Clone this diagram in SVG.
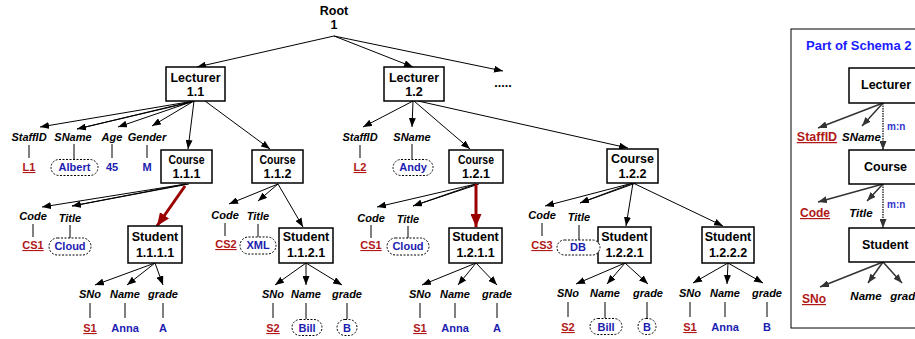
<svg xmlns="http://www.w3.org/2000/svg" width="915" height="339" viewBox="0 0 915 339">
<defs>
<marker id="ah" viewBox="0 0 9 7" refX="9" refY="3.5" markerWidth="9" markerHeight="7" markerUnits="userSpaceOnUse" orient="auto" preserveAspectRatio="none"><path d="M0,0 L9,3.5 L0,7 z" fill="#000"/></marker>
<marker id="ahg" viewBox="0 0 9 7" refX="9" refY="3.5" markerWidth="9" markerHeight="7" markerUnits="userSpaceOnUse" orient="auto" preserveAspectRatio="none"><path d="M0,0 L9,3.5 L0,7 z" fill="#333"/></marker>
<marker id="ahr" viewBox="0 0 13 11" refX="13" refY="5.5" markerWidth="13" markerHeight="11" markerUnits="userSpaceOnUse" orient="auto" preserveAspectRatio="none"><path d="M0,0 L13,5.5 L0,11 z" fill="#9b0000"/></marker>
<style>
.box{fill:#fff;stroke:#000;stroke-width:1.5}
.bt{font-family:"Liberation Sans",Arial,sans-serif;font-weight:bold;font-size:12.5px;text-anchor:middle;fill:#000}
.lab{font-family:"Liberation Sans",Arial,sans-serif;font-weight:bold;font-style:italic;font-size:11px;text-anchor:middle;fill:#000}
.val{font-family:"Liberation Sans",Arial,sans-serif;font-weight:bold;font-size:11px;text-anchor:middle;fill:#1c1cb0}
.key{fill:#b01818;text-decoration:underline}
.e{stroke:#000;stroke-width:1;fill:none;marker-end:url(#ah)}
.e2{stroke:#000;stroke-width:1;fill:none}
.eg{stroke:#333;stroke-width:1.5;fill:none;marker-end:url(#ahg)}
.ed{stroke:#333;stroke-width:1.5;fill:none;stroke-dasharray:1.5 1;marker-end:url(#ahg)}
.er{stroke:#9b0000;stroke-width:3;fill:none;marker-end:url(#ahr)}
.vl{stroke:#000;stroke-width:1}
.dot{fill:#fff;stroke:#000;stroke-width:1;stroke-dasharray:2 1.5}
.mn{font-family:"Liberation Sans",Arial,sans-serif;font-weight:bold;font-size:10px;fill:#3333cc}
</style>
</defs>
<rect width="915" height="339" fill="#fff"/>

<g id="connectors">
<!-- root -->
<line class="e" x1="334" y1="36" x2="197" y2="67"/>
<line class="e" x1="334" y1="36" x2="413" y2="67"/>
<line class="e" x1="334" y1="36" x2="503" y2="71"/>
<!-- lecturer 1.1 -->
<line class="e" x1="194" y1="101" x2="40" y2="127"/>
<line class="e2" x1="192" y1="102" x2="77" y2="129"/>
<line class="e" x1="194" y1="101" x2="77" y2="129"/>
<line class="e" x1="194" y1="101" x2="118" y2="127"/>
<line class="e" x1="194" y1="101" x2="152" y2="126"/>
<line class="e" x1="194" y1="101" x2="188" y2="149"/>
<line class="e" x1="205" y1="101" x2="270" y2="149"/>
<!-- course 1.1.1 -->
<line class="e" x1="186" y1="184" x2="42" y2="207"/>
<line class="e" x1="186" y1="184" x2="72" y2="206"/>
<line class="e2" x1="189" y1="184" x2="72" y2="206"/>
<line class="er" x1="185" y1="186" x2="157" y2="226"/>
<!-- course 1.1.2 -->
<line class="e" x1="278" y1="184" x2="229" y2="204"/>
<line class="e" x1="278" y1="184" x2="258" y2="201"/>
<line class="e" x1="278" y1="184" x2="303" y2="227"/>
<!-- lecturer 1.2 -->
<line class="e" x1="413" y1="101" x2="363" y2="127"/>
<line class="e" x1="413" y1="101" x2="412" y2="127"/>
<line class="e" x1="414" y1="101" x2="470" y2="149"/>
<line class="e" x1="418" y1="101" x2="628" y2="148"/>
<!-- course 1.2.1 -->
<line class="e" x1="476" y1="184" x2="377" y2="207"/>
<line class="e" x1="476" y1="184" x2="413" y2="206"/>
<line class="e2" x1="479" y1="184" x2="413" y2="206"/>
<line class="er" x1="476" y1="184" x2="476" y2="227"/>
<!-- course 1.2.2 -->
<line class="e" x1="633" y1="183" x2="545" y2="206"/>
<line class="e" x1="633" y1="183" x2="580" y2="203"/>
<line class="e2" x1="636" y1="183" x2="580" y2="203"/>
<line class="e" x1="633" y1="183" x2="626" y2="226"/>
<line class="e" x1="633" y1="183" x2="723" y2="226"/>
<!-- students -->
<line class="e" x1="155" y1="263" x2="95" y2="285"/>
<line class="e" x1="155" y1="263" x2="127" y2="285"/>
<line class="e" x1="155" y1="263" x2="163" y2="285"/>
<line class="e" x1="306" y1="263" x2="275" y2="285"/>
<line class="e" x1="306" y1="263" x2="306" y2="285"/>
<line class="e" x1="306" y1="263" x2="342" y2="285"/>
<line class="e" x1="476" y1="263" x2="422" y2="285"/>
<line class="e" x1="476" y1="263" x2="458" y2="285"/>
<line class="e" x1="476" y1="263" x2="497" y2="285"/>
<line class="e" x1="625" y1="263" x2="576" y2="284"/>
<line class="e" x1="625" y1="263" x2="607" y2="284"/>
<line class="e" x1="625" y1="263" x2="648" y2="284"/>
<line class="e" x1="728" y1="263" x2="693" y2="283"/>
<line class="e" x1="728" y1="263" x2="727" y2="284"/>
<line class="e" x1="728" y1="263" x2="763" y2="283"/>
<!-- value ties -->
<line class="vl" x1="29" y1="145" x2="29" y2="158"/>
<line class="vl" x1="74" y1="144" x2="74" y2="159"/>
<line class="vl" x1="112" y1="144" x2="112" y2="158"/>
<line class="vl" x1="147" y1="145" x2="147" y2="158" stroke="#777"/>
<line class="vl" x1="360" y1="145" x2="360" y2="158"/>
<line class="vl" x1="412" y1="144" x2="412" y2="159"/>
<line class="vl" x1="33" y1="224" x2="33" y2="237"/>
<line class="vl" x1="70" y1="225" x2="70" y2="238"/>
<line class="vl" x1="225" y1="223" x2="225" y2="236"/>
<line class="vl" x1="258" y1="224" x2="258" y2="237"/>
<line class="vl" x1="371" y1="225" x2="371" y2="238"/>
<line class="vl" x1="408" y1="226" x2="408" y2="238"/>
<line class="vl" x1="542" y1="223" x2="542" y2="236"/>
<line class="vl" x1="579" y1="225" x2="579" y2="240"/>
<line class="vl" x1="90" y1="303" x2="90" y2="318"/>
<line class="vl" x1="125" y1="303" x2="125" y2="318"/>
<line class="vl" x1="163" y1="303" x2="163" y2="318"/>
<line class="vl" x1="273" y1="303" x2="273" y2="318"/>
<line class="vl" x1="306" y1="303" x2="306" y2="319"/>
<line class="vl" x1="347" y1="303" x2="347" y2="319"/>
<line class="vl" x1="420" y1="303" x2="420" y2="318"/>
<line class="vl" x1="455" y1="303" x2="455" y2="318"/>
<line class="vl" x1="497" y1="303" x2="497" y2="318"/>
<line class="vl" x1="568" y1="302" x2="568" y2="317"/>
<line class="vl" x1="605" y1="302" x2="605" y2="318"/>
<line class="vl" x1="647" y1="302" x2="647" y2="318"/>
<line class="vl" x1="690" y1="302" x2="690" y2="317"/>
<line class="vl" x1="725" y1="302" x2="725" y2="317"/>
<line class="vl" x1="767" y1="302" x2="767" y2="317"/>
</g>

<g id="root"><text class="bt" x="334" y="15" font-size="11.5">Root</text><text class="bt" x="334" y="29" font-size="11.5">1</text></g>
<g id="more"><text class="bt" x="503" y="87" font-size="10">.....</text></g>

<g id="lecturer11"><rect class="box" x="166" y="67" width="59" height="34"/><text class="bt" x="195.5" y="81.5">Lecturer</text><text class="bt" x="195.5" y="96">1.1</text></g>
<g id="lecturer12"><rect class="box" x="384" y="67" width="60" height="34"/><text class="bt" x="414" y="81.5">Lecturer</text><text class="bt" x="414" y="96">1.2</text></g>
<g id="course111"><rect class="box" x="161" y="150" width="51" height="33"/><text class="bt" x="186.5" y="163.5" textLength="36" lengthAdjust="spacingAndGlyphs">Course</text><text class="bt" x="186.5" y="178">1.1.1</text></g>
<g id="course112"><rect class="box" x="252" y="150" width="51" height="33"/><text class="bt" x="277.5" y="163.5" textLength="36" lengthAdjust="spacingAndGlyphs">Course</text><text class="bt" x="277.5" y="178">1.1.2</text></g>
<g id="course121"><rect class="box" x="449" y="150" width="54" height="33"/><text class="bt" x="476" y="163.5" textLength="36" lengthAdjust="spacingAndGlyphs">Course</text><text class="bt" x="476" y="178">1.2.1</text></g>
<g id="course122"><rect class="box" x="607" y="149" width="51" height="34"/><text class="bt" x="632.5" y="163">Course</text><text class="bt" x="632.5" y="177.5">1.2.2</text></g>
<g id="student1111"><rect class="box" x="128" y="226" width="54" height="37"/><text class="bt" x="155" y="240.5">Student</text><text class="bt" x="155" y="257">1.1.1.1</text></g>
<g id="student1121"><rect class="box" x="279" y="228" width="54" height="35"/><text class="bt" x="306" y="241">Student</text><text class="bt" x="306" y="257">1.1.2.1</text></g>
<g id="student1211"><rect class="box" x="449" y="228" width="53" height="35"/><text class="bt" x="475.5" y="241">Student</text><text class="bt" x="475.5" y="257">1.2.1.1</text></g>
<g id="student1221"><rect class="box" x="598" y="227" width="53" height="36"/><text class="bt" x="624.5" y="240.5">Student</text><text class="bt" x="624.5" y="257">1.2.2.1</text></g>
<g id="student1222"><rect class="box" x="702" y="227" width="52" height="36"/><text class="bt" x="728" y="240.5">Student</text><text class="bt" x="728" y="257">1.2.2.2</text></g>

<g id="attrs-l11">
<text class="lab" x="29" y="141">StaffID</text><text class="lab" x="73" y="141">SName</text><text class="lab" x="112" y="141">Age</text><text class="lab" x="147" y="141">Gender</text>
<text class="val key" x="29" y="171">L1</text>
<rect class="dot" x="51" y="159.5" width="47" height="16" rx="8"/><text class="val" x="74.5" y="171">Albert</text>
<text class="val" x="112" y="171">45</text><text class="val" x="147" y="171">M</text>
</g>
<g id="attrs-l12">
<text class="lab" x="360" y="141">StaffID</text><text class="lab" x="412" y="141">SName</text>
<text class="val key" x="360" y="171">L2</text>
<rect class="dot" x="393" y="159.5" width="40" height="16" rx="8"/><text class="val" x="413" y="171">Andy</text>
</g>
<g id="attrs-c111">
<text class="lab" x="33" y="220">Code</text><text class="lab" x="70" y="222">Title</text>
<text class="val key" x="33" y="249">CS1</text>
<rect class="dot" x="49" y="238" width="42" height="17" rx="8.5"/><text class="val" x="70" y="250">Cloud</text>
</g>
<g id="attrs-c112">
<text class="lab" x="225" y="219">Code</text><text class="lab" x="258" y="220">Title</text>
<text class="val key" x="226" y="248">CS2</text>
<rect class="dot" x="240" y="237" width="36" height="17" rx="8.5"/><text class="val" x="258" y="249">XML</text>
</g>
<g id="attrs-c121">
<text class="lab" x="371" y="222">Code</text><text class="lab" x="408" y="223">Title</text>
<text class="val key" x="371" y="249">CS1</text>
<rect class="dot" x="387" y="238" width="42" height="17" rx="8.5"/><text class="val" x="408" y="250">Cloud</text>
</g>
<g id="attrs-c122">
<text class="lab" x="542" y="219">Code</text><text class="lab" x="579" y="221">Title</text>
<text class="val key" x="542" y="249">CS3</text>
<rect class="dot" x="557" y="240" width="43" height="15" rx="7.5"/><text class="val" x="578" y="251">DB</text>
</g>
<g id="attrs-s1111">
<text class="lab" x="90" y="298">SNo</text><text class="lab" x="125" y="298">Name</text><text class="lab" x="163" y="298">grade</text>
<text class="val key" x="90" y="332">S1</text><text class="val" x="125" y="332">Anna</text><text class="val" x="163" y="332">A</text>
</g>
<g id="attrs-s1121">
<text class="lab" x="273" y="298">SNo</text><text class="lab" x="306" y="298">Name</text><text class="lab" x="347" y="298">grade</text>
<text class="val key" x="273" y="332">S2</text>
<rect class="dot" x="292" y="319.5" width="30" height="16" rx="8"/><text class="val" x="307" y="332">Bill</text>
<rect class="dot" x="337" y="319.5" width="20" height="16" rx="8"/><text class="val" x="347" y="332">B</text>
</g>
<g id="attrs-s1211">
<text class="lab" x="420" y="298">SNo</text><text class="lab" x="455" y="298">Name</text><text class="lab" x="497" y="298">grade</text>
<text class="val key" x="420" y="332">S1</text><text class="val" x="455" y="332">Anna</text><text class="val" x="497" y="332">A</text>
</g>
<g id="attrs-s1221">
<text class="lab" x="568" y="297">SNo</text><text class="lab" x="605" y="297">Name</text><text class="lab" x="648" y="297">grade</text>
<text class="val key" x="568" y="331">S2</text>
<rect class="dot" x="590" y="318.5" width="32" height="16" rx="8"/><text class="val" x="606" y="331">Bill</text>
<rect class="dot" x="638" y="318.5" width="18" height="16" rx="8"/><text class="val" x="647" y="331">B</text>
</g>
<g id="attrs-s1222">
<text class="lab" x="690" y="297">SNo</text><text class="lab" x="725" y="297">Name</text><text class="lab" x="767" y="297">grade</text>
<text class="val key" x="690" y="331">S1</text><text class="val" x="725" y="331">Anna</text><text class="val" x="767" y="331">B</text>
</g>

<g id="schema">
<rect x="791" y="29" width="140" height="299" fill="#fff" stroke="#000" stroke-width="1"/>
<text x="806" y="50" font-family="'Liberation Sans',Arial,sans-serif" font-weight="bold" font-size="13" fill="#1a1aff">Part of Schema 2</text>
<g id="schema-connectors">
<line class="eg" x1="883" y1="103" x2="818" y2="128"/>
<line class="eg" x1="883" y1="103" x2="862" y2="126"/>
<line class="ed" x1="883" y1="103" x2="883" y2="150"/>
<line class="eg" x1="883" y1="184" x2="818" y2="202"/>
<line class="eg" x1="883" y1="184" x2="867" y2="201"/>
<line class="ed" x1="883" y1="184" x2="883" y2="228"/>
<line class="eg" x1="883" y1="262" x2="820" y2="287"/>
<line class="eg" x1="883" y1="262" x2="868" y2="283"/>
<line class="eg" x1="883" y1="262" x2="902" y2="283"/>
</g>
<g id="s-lecturer"><rect class="box" x="849" y="68" width="80" height="35"/><text class="bt" x="861" y="89" font-size="11.5" text-anchor="start" style="text-anchor:start">Lecturer</text></g>
<g id="s-course"><rect class="box" x="849" y="150" width="80" height="34"/><text class="bt" x="864" y="171" font-size="11.5" style="text-anchor:start">Course</text></g>
<g id="s-student"><rect class="box" x="849" y="228" width="80" height="34"/><text class="bt" x="862" y="249" font-size="11.5" style="text-anchor:start">Student</text></g>
<text class="mn" x="887" y="130">m:n</text>
<text class="mn" x="887" y="208">m:n</text>
<text class="val key" x="817" y="141" font-size="12.5" style="font-size:12.5px">StaffID</text>
<text class="lab" x="842" y="141" style="text-anchor:start;font-size:11.5px">SName</text>
<text class="val key" x="815" y="217" style="font-size:12px">Code</text>
<text class="lab" x="861" y="217" style="font-size:11.5px">Title</text>
<text class="val key" x="814" y="303" style="font-size:12px">SNo</text>
<text class="lab" x="866" y="300" style="font-size:11.5px">Name</text>
<text class="lab" x="906" y="300" style="font-size:11.5px">grade</text>
</g>
</svg>
